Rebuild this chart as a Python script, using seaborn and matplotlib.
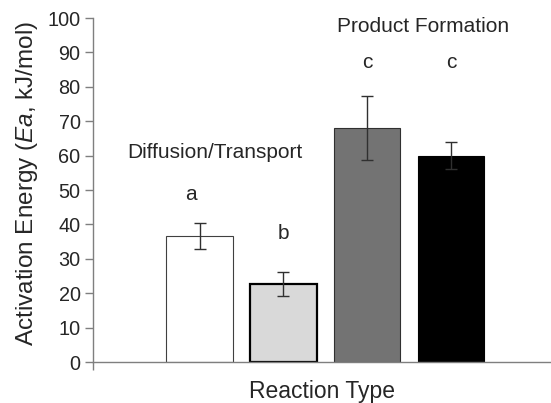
import matplotlib
matplotlib.use("Agg")
import matplotlib.pyplot as plt
import seaborn as sns
import pandas as pd

categories = ["Diffusion 1", "Diffusion 2", "Product 1", "Product 2"]
values = [36.7, 22.7, 68.0, 60.0]
errors = [3.8, 3.6, 9.4, 4.0]
letters = ["a", "b", "c", "c"]
bar_colors = ["#ffffff", "#d9d9d9", "#737373", "#000000"]
edge_colors = ["#404040", "#000000", "#303030", "#000000"]
edge_widths = [0.8, 1.6, 0.8, 0.8]
yticks = list(range(0, 101, 10))

sns.set_theme(style="white")
plt.rcParams["font.family"] = ["Liberation Sans", "DejaVu Sans"]
plt.rcParams["mathtext.fontset"] = "custom"
plt.rcParams["mathtext.rm"] = "Liberation Sans"
plt.rcParams["mathtext.it"] = "Liberation Sans:italic"

df = pd.DataFrame({"cat": categories, "val": values})

fig = plt.figure(figsize=(5.51, 4.03), dpi=100)
ax = fig.add_axes([93/551, 41/403, 458/551, 344/403])

sns.barplot(data=df, x="cat", y="val", hue="cat", palette=bar_colors,
            width=0.79, legend=False, ax=ax, errorbar=None, saturation=1)
for p, ec, lw in zip(ax.patches, edge_colors, edge_widths):
    p.set_edgecolor(ec)
    p.set_linewidth(lw)

ax.errorbar(range(len(values)), values, yerr=errors, fmt="none",
            ecolor="#303030", elinewidth=1.0, capsize=4, capthick=1.0, zorder=5)

letter_y = [48.8, 37.5, 87.2, 87.2]
letter_x = [-0.1, 1.0, 2.0, 3.0]
for t, lx, ly in zip(letters, letter_x, letter_y):
    ax.text(lx, ly, t, ha="center", va="center", fontsize=15)

ax.text(0.18, 60.8, "Diffusion/Transport", ha="center", va="center", fontsize=15)
ax.text(2.67, 97.6, "Product Formation", ha="center", va="center", fontsize=15)

ax.set_xlim(-1.27, 4.19)
ax.set_ylim(0, 100)
ax.set_yticks(yticks)
ax.set_yticklabels([str(t) for t in yticks], fontsize=14.3)
ax.set_xticks([-1.27])
ax.set_xticklabels([""])
ax.set_xlabel("Reaction Type", fontsize=16.5, labelpad=4)
ax.set_ylabel(r"Activation Energy ($Ea$, kJ/mol)", fontsize=17.5, labelpad=5)
ax.yaxis.label.set_y(0.52)

for s in ["top", "right"]:
    ax.spines[s].set_visible(False)
for s in ["left", "bottom"]:
    ax.spines[s].set_color("#7f7f7f")
    ax.spines[s].set_linewidth(1.0)
ax.tick_params(axis="both", direction="out", length=6, width=1.0, color="#7f7f7f",
               left=True, bottom=True, pad=3)

fig.savefig("out.png", dpi=100)
